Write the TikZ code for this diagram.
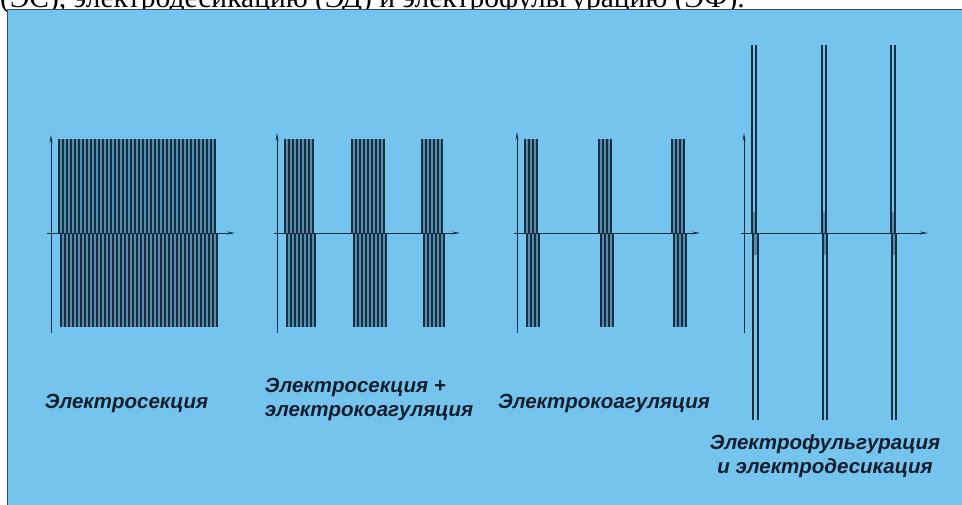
\documentclass[tikz,border=0pt]{standalone}
\usepackage{fontspec}
\setmainfont{Liberation Serif}
\newfontfamily\labfont{Liberation Sans}
\usetikzlibrary{arrows.meta}
\definecolor{panelblue}{RGB}{116,196,238}
\definecolor{ink}{RGB}{25,45,65}
\definecolor{textink}{RGB}{18,30,45}
\definecolor{burstfill}{RGB}{84,140,174}
\tikzset{
  axisline/.style={draw=ink, line width=0.8pt},
  arrowaxis/.style={axisline, -{Stealth[length=8pt,width=3pt]}},
  pulse/.style={draw=ink, line width=1.2pt},
  lbl/.style={font=\labfont\bfseries\itshape\fontsize{20.5}{24}\selectfont, text=textink, inner sep=0pt},
}
\newcommand\pulseburst[6]{% x0, n, dx, shift, ytop, ybot
  \pgfmathsetmacro\xend{#1+(#2-1)*#3}
  \fill[burstfill] (#1,#5) rectangle (\xend,233);
  \fill[burstfill] (#1+#4,233) rectangle (\xend+#4,#6);
  \foreach \i in {1,...,#2}{
    \draw[pulse] ({#1+(\i-1)*#3},#5) -- ({#1+(\i-1)*#3},233);
    \draw[pulse] ({#1+(\i-1)*#3+#4},233) -- ({#1+(\i-1)*#3+#4},#6);
  }
}
\begin{document}
\begin{tikzpicture}[x=1pt,y=-1pt]
\useasboundingbox (0,0) rectangle (962,504);
\fill[white] (0,0) rectangle (962,504);
\node[anchor=base west, inner sep=0pt, font=\fontsize{29.5}{30}\selectfont] (caption) at (0,7.5) {(ЭС), электродесикацию (ЭД) и электрофульгурацию (ЭФ).};
\filldraw[fill=panelblue, draw=ink!85, line width=1pt] (7,9.5) rectangle (980,520);

% panel 1
\pulseburst{59}{40}{4}{2}{139}{327}
% panel 2
\pulseburst{285}{8}{4}{2}{139}{327}
\pulseburst{352}{9}{4}{2}{139}{327}
\pulseburst{422}{6}{4}{2}{139}{327}
% panel 3
\pulseburst{525}{4}{4}{2}{139}{327}
\pulseburst{599}{4}{4}{2}{139}{327}
\pulseburst{672}{4}{4}{2}{139}{327}
% panel 4
\foreach \a/\b/\c/\d in {752/756/753/758, 822/826/823/827, 891/895/892/896}{
  \fill[burstfill] (\a,212) rectangle (\b,233);
  \fill[burstfill] (\c,233) rectangle (\d,255);
  \draw[pulse] (\a,45) -- (\a,233);
  \draw[pulse] (\b,45) -- (\b,233);
  \draw[pulse] (\c,233) -- (\c,420);
  \draw[pulse] (\d,233) -- (\d,420);
}

% axes
\foreach \n/\yx/\xl/\xr/\yt in {1/51/47/235/135, 2/277/274/460/133, 3/517/514/700/132, 4/744/741/928/133}{
  \coordinate (yb\n) at (\yx,333);
  \coordinate (yt\n) at (\yx,\yt);
  \coordinate (xl\n) at (\xl,233);
  \coordinate (xr\n) at (\xr,233);
  \draw[arrowaxis] (yb\n) -- (yt\n);
  \draw[arrowaxis] (xl\n) -- (xr\n);
}

% labels
\node[lbl] (l1) at (126.5,403) {Электросекция};
\node[lbl, align=left] (l2) at (369,399) {Электросекция +\\электрокоагуляция};
\node[lbl] (l3) at (604,403) {Электрокоагуляция};
\node[lbl, align=center] (l4) at (825,456) {Электрофульгурация\\и электродесикация};
\end{tikzpicture}
\end{document}
